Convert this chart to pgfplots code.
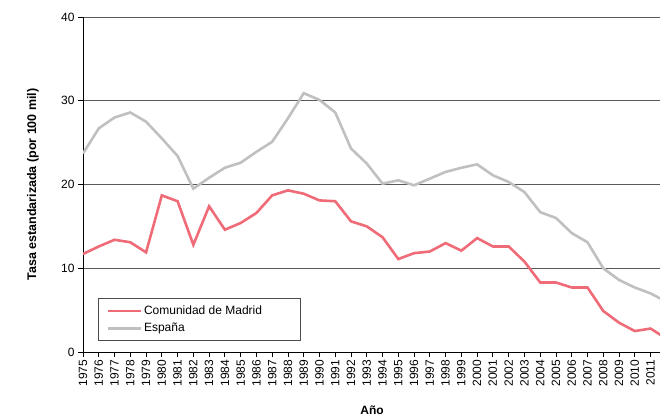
\documentclass[border=0pt]{standalone}
\usepackage{pgfplots}
\pgfplotsset{compat=1.18}
\usepackage{fontspec}
\setmainfont{Liberation Sans}
\definecolor{madrid}{RGB}{240,107,120}
\definecolor{espana}{RGB}{192,192,192}
\begin{document}
\begin{tikzpicture}
  \begin{axis}[
      at={(83pt,67pt)}, anchor=south west,
      scale only axis,
      width=577pt, height=335pt,
      xmin=1975, xmax=2011.6,
      ymin=0, ymax=40,
      axis lines*=left,
      axis line style={black, line width=0.8pt},
      ytick={0,10,20,30,40},
      xtick={1975,...,2011},
      tick align=outside,
      major tick length=5pt,
      tick style={black, line width=0.8pt},
      /pgf/number format/1000 sep={},
      /pgf/number format/assume math mode=true,
      ticklabel style={font=\fontsize{12}{13}\selectfont},
      x tick label style={rotate=90, anchor=east, inner sep=2.5pt},
      ymajorgrids,
      grid style={black!65, line width=0.8pt},
      xlabel={\bfseries Año},
      xlabel style={font=\fontsize{12}{13}\selectfont, at={(axis description cs:0.501,-0.173)}, anchor=center},
      ylabel={\bfseries Tasa estandarizada (por 100 mil)},
      ylabel style={font=\fontsize{12.5}{13}\selectfont, at={(axis description cs:-0.087,0.5)}, anchor=center},
      legend style={at={(0.026,0.161)}, anchor=north west, draw=black!70, line width=0.8pt,
        font=\fontsize{12}{13}\selectfont, inner xsep=8pt, inner ysep=5.5pt, row sep=3pt},
      legend cell align=left,
      legend image code/.code={\draw[#1] (0pt,0pt) -- (33pt,0pt);},
    ]
    \addplot[madrid, line width=2.6pt] coordinates {
      (1975,11.7) (1976,12.6) (1977,13.4) (1978,13.1) (1979,11.9) (1980,18.7)
      (1981,18.0) (1982,12.8) (1983,17.4) (1984,14.6) (1985,15.4) (1986,16.6)
      (1987,18.7) (1988,19.3) (1989,18.9) (1990,18.1) (1991,18.0) (1992,15.6)
      (1993,15.0) (1994,13.7) (1995,11.1) (1996,11.8) (1997,12.0) (1998,13.0)
      (1999,12.1) (2000,13.6) (2001,12.6) (2002,12.6) (2003,10.8) (2004,8.3)
      (2005,8.3) (2006,7.7) (2007,7.7) (2008,4.9) (2009,3.5) (2010,2.5)
      (2011,2.8) (2012,1.6)
    };
    \addlegendentry{Comunidad de Madrid\hspace*{28pt}\mbox{}}
    \addplot[espana, line width=2.6pt] coordinates {
      (1975,23.7) (1976,26.7) (1977,28.0) (1978,28.6) (1979,27.5) (1980,25.5)
      (1981,23.4) (1982,19.5) (1983,20.8) (1984,22.0) (1985,22.6) (1986,23.9)
      (1987,25.1) (1988,27.9) (1989,30.9) (1990,30.1) (1991,28.6) (1992,24.3)
      (1993,22.5) (1994,20.1) (1995,20.5) (1996,19.9) (1997,20.7) (1998,21.5)
      (1999,22.0) (2000,22.4) (2001,21.1) (2002,20.3) (2003,19.1) (2004,16.7)
      (2005,16.0) (2006,14.2) (2007,13.1) (2008,10.0) (2009,8.6) (2010,7.7)
      (2011,7.0) (2012,6.0)
    };
    \addlegendentry{España}
  \end{axis}
  \pgfresetboundingbox
  \useasboundingbox (0,0) rectangle (660pt,419pt);
\end{tikzpicture}
\end{document}
